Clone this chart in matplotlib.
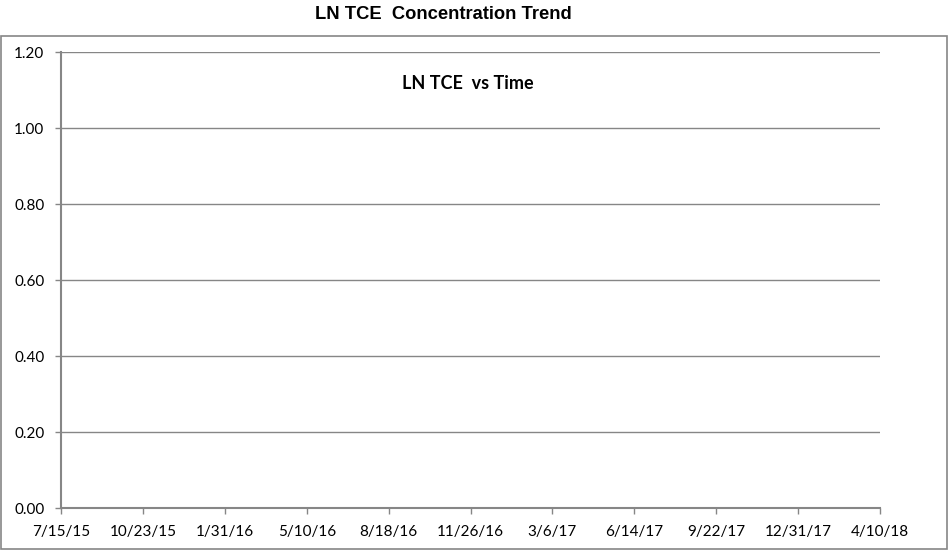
import datetime as dt
import matplotlib
matplotlib.use("Agg")
import matplotlib.pyplot as plt
import matplotlib.dates as mdates
from matplotlib.patches import Rectangle

# axis ranges and tick labels
x_start = dt.date(2015, 7, 15)
x_step_days = 100
n_steps = 10
y_ticks = [0.0, 0.2, 0.4, 0.6, 0.8, 1.0, 1.2]

# no sample data in this series
dates = []
ln_tce = []

x_ticks = [x_start + dt.timedelta(days=x_step_days * i) for i in range(n_steps + 1)]
x_labels = [f"{d.month}/{d.day}/{d.strftime('%y')}" for d in x_ticks]

grey = "#868686"
tick_font = ["Lato", "DejaVu Sans"]

fig = plt.figure(figsize=(9.49, 5.56), dpi=100)
ax = fig.add_axes([61 / 949, 1 - 508 / 556, 819 / 949, 456 / 556])

ax.plot(dates, ln_tce, color="#4472C4")

ax.set_xlim(mdates.date2num(x_ticks[0]), mdates.date2num(x_ticks[-1]))
ax.set_ylim(0, 1.2)
ax.set_xticks(mdates.date2num(x_ticks))
ax.set_xticklabels(x_labels, family=tick_font, fontsize=11)
ax.set_yticks(y_ticks)
ax.set_yticklabels([f"{v:.2f}" for v in y_ticks], family=tick_font, fontsize=11)

ax.grid(axis="y", color=grey, linewidth=1)
ax.set_axisbelow(True)
for s in ["top", "right"]:
    ax.spines[s].set_visible(False)
for s in ["left", "bottom"]:
    ax.spines[s].set_color(grey)
    ax.spines[s].set_linewidth(1.5)
ax.tick_params(axis="x", direction="out", length=4, color=grey, width=1, pad=8)
ax.tick_params(axis="y", direction="out", length=4, color=grey, width=1, pad=8)

ax.text(467.5 / 949 * 949 / 819 - 61 / 819, 0.932, "LN TCE  vs Time", transform=ax.transAxes,
        ha="center", va="center", fontsize=13, fontweight="bold", family=tick_font)

fig.text(443 / 949, 1 - 14.5 / 556, "LN TCE  Concentration Trend", ha="center", va="center",
         fontsize=13.2, fontweight="bold", family="Liberation Sans")

# chart border
fig.patches.append(Rectangle((0.5 / 949, 1 - 549 / 556), 946 / 949, 513 / 556,
                             transform=fig.transFigure, fill=False, edgecolor=grey, linewidth=1.2))

fig.savefig("out.png", dpi=100)
